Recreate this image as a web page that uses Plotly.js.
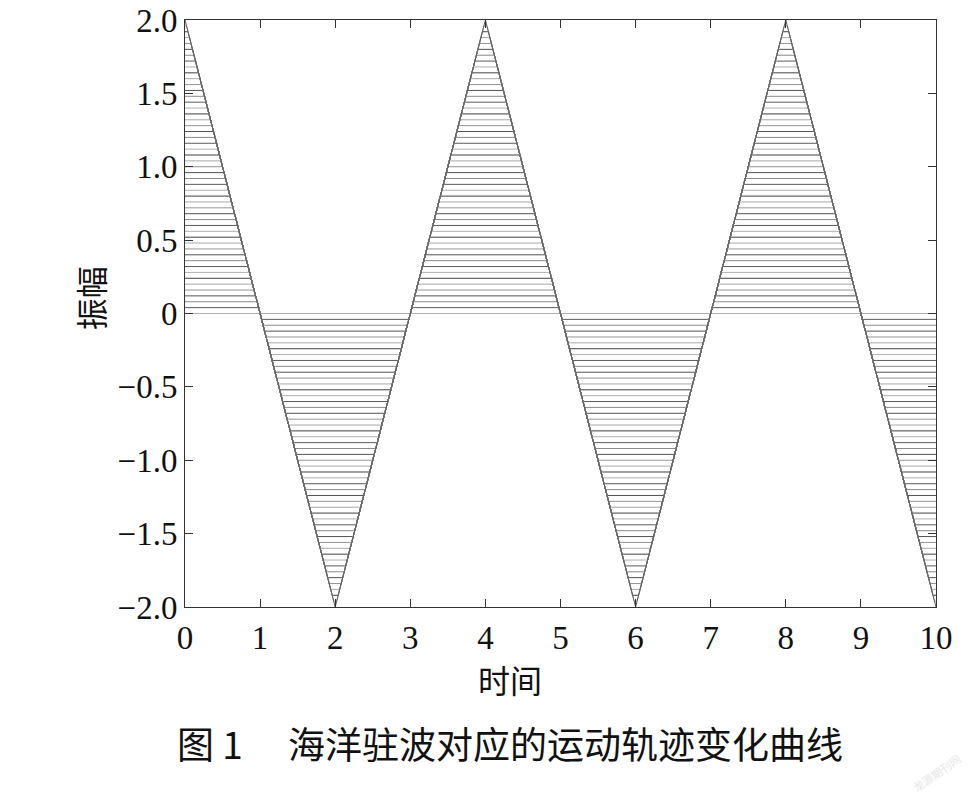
<!DOCTYPE html>
<html>
<head>
<meta charset="utf-8">
<script src="https://cdn.plot.ly/plotly-3.0.1.min.js"></script>
<style>html,body{margin:0;padding:0;background:#fff;}#chart{width:980px;height:794px;}</style>
</head>
<body>
<div id="chart"></div>
<script>
// Triangle-wave vertices (时间, 振幅)
const waveX = [0, 2, 4, 6, 8, 10];
const waveY = [2, -2, 2, -2, 2, -2];
// Clipping levels of the family of trajectory curves
const levels = [0.00, 0.04, 0.08, 0.12, 0.16, 0.20, 0.24, 0.28, 0.32, 0.36,
                0.40, 0.44, 0.48, 0.52, 0.56, 0.60, 0.64, 0.68, 0.72, 0.76,
                0.80, 0.84, 0.88, 0.92, 0.96, 1.00, 1.04, 1.08, 1.12, 1.16,
                1.20, 1.24, 1.28, 1.32, 1.36, 1.40, 1.44, 1.48, 1.52, 1.56,
                1.60, 1.64, 1.68, 1.72, 1.76, 1.80, 1.84, 1.88, 1.92, 1.96, 2.00];
const lineGrays = ['#b0b0b0', '#5c5c5c', '#8a8a8a', '#525252', '#959595', '#a8a8a8', '#404040'];
const xTickVals = [0,1,2,3,4,5,6,7,8,9,10];
const xTickText = ['0','1','2','3','4','5','6','7','8','9','10'];
const yTickVals = [2, 1.5, 1, 0.5, 0, -0.5, -1, -1.5, -2];
const yTickText = ['2.0','1.5','1.0','0.5','0','\u22120.5','\u22121.0','\u22121.5','\u22122.0'];

function clippedCurve(a) {
  const xs = [], ys = [];
  for (let i = 0; i < waveX.length - 1; i++) {
    const x0 = waveX[i], x1 = waveX[i+1], y0 = waveY[i], y1 = waveY[i+1];
    const pts = [x0];
    [a, -a].forEach(function (L) {
      if ((L - y0) * (L - y1) < 0) pts.push(x0 + (L - y0) / (y1 - y0) * (x1 - x0));
    });
    pts.sort(function (p, q) { return p - q; });
    pts.forEach(function (x) {
      const y = y0 + (x - x0) / (x1 - x0) * (y1 - y0);
      xs.push(x); ys.push(Math.max(-a, Math.min(a, y)));
    });
  }
  const xe = waveX[waveX.length-1], ye = waveY[waveY.length-1];
  xs.push(xe); ys.push(Math.max(-a, Math.min(a, ye)));
  return {x: xs, y: ys};
}

const traces = levels.map(function (a, k) {
  const c = clippedCurve(a);
  return {x: c.x, y: c.y, type: 'scatter', mode: 'lines',
          line: {color: lineGrays[k % lineGrays.length], width: 1},
          hoverinfo: 'skip', showlegend: false};
});

const serif = 'Liberation Serif, Times New Roman, serif';
const cjk = 'Noto Sans CJK SC, Noto Sans, sans-serif';
const axisCommon = {
  showgrid: false, zeroline: false, showline: true, mirror: 'ticks',
  linecolor: '#333', linewidth: 1, ticks: 'inside', ticklen: 8, tickcolor: '#333',
  tickfont: {family: serif, size: 33, color: '#111'}
};
const layout = {
  width: 980, height: 794,
  margin: {l: 185, r: 44, t: 20, b: 187},
  paper_bgcolor: '#fff', plot_bgcolor: '#fff',
  xaxis: Object.assign({}, axisCommon, {range: [0, 10], tickvals: xTickVals, ticktext: xTickText, ticklabelstandoff: 1}),
  yaxis: Object.assign({}, axisCommon, {range: [-2, 2], tickvals: yTickVals, ticktext: yTickText}),
  annotations: [
    {text: '振幅', xref: 'paper', yref: 'paper', x: -0.1265, y: 0.526, xanchor: 'center', yanchor: 'middle',
     showarrow: false, textangle: -90, font: {family: cjk, size: 32, color: '#111'}},
    {text: '时间', xref: 'paper', yref: 'paper', x: 0.4327, y: -0.122, xanchor: 'center', yanchor: 'middle',
     showarrow: false, font: {family: cjk, size: 32, color: '#111'}},
    {text: '图 1\u3000 海洋驻波对应的运动轨迹变化曲线', xref: 'paper', yref: 'paper', x: 0.4327, y: -0.2317,
     xanchor: 'center', yanchor: 'middle', showarrow: false, font: {family: cjk, size: 37, color: '#111'}},
    {text: '龙源期刊网', xref: 'paper', yref: 'paper', x: 1.0, y: -0.283, xanchor: 'center', yanchor: 'middle',
     showarrow: false, textangle: -35, font: {family: cjk, size: 11, color: '#e6e6e6'}}
  ]
};
Plotly.newPlot('chart', traces, layout, {displayModeBar: false, staticPlot: true});
</script>
</body>
</html>
